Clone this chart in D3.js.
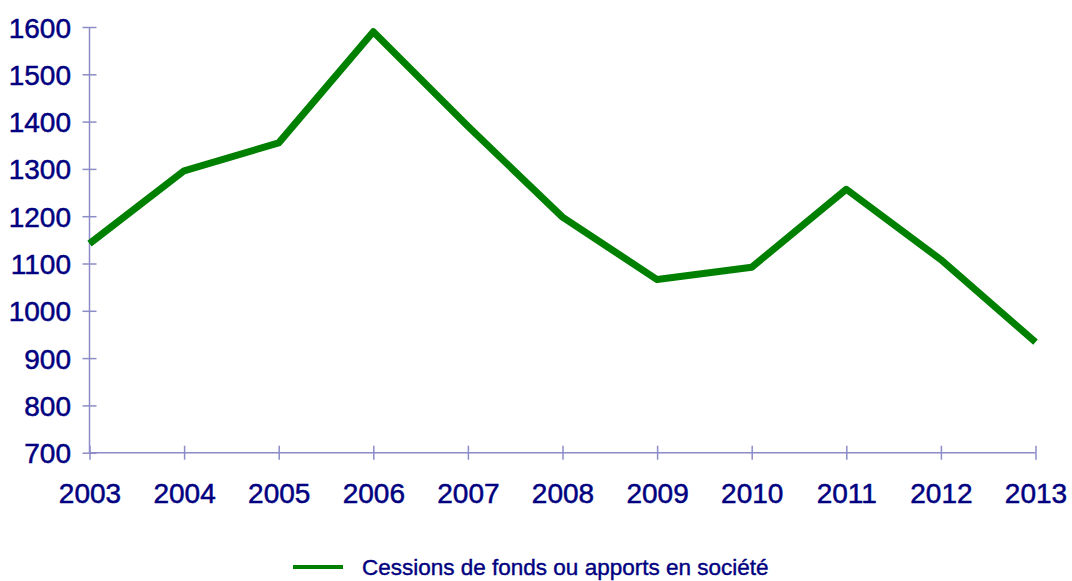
<!DOCTYPE html>
<html>
<head>
<meta charset="utf-8">
<script src="https://cdn.jsdelivr.net/npm/d3@7"></script>
<style>
  body { margin: 0; background: #fff; }
  text { font-family: "Liberation Sans", Arial, sans-serif; }
</style>
</head>
<body>
<script>
// chart data
var years = ["2003","2004","2005","2006","2007","2008","2009","2010","2011","2012","2013"];
var values = [1142, 1296, 1355, 1590, 1390, 1198, 1066, 1092, 1257, 1108, 934];
var yTicks = [700, 800, 900, 1000, 1100, 1200, 1300, 1400, 1500, 1600];
var seriesName = "Cessions de fonds ou apports en société";

var width = 1072, height = 581;
var axisColor = "#8c8cc8", textColor = "#000080", lineColor = "#008000";

var svg = d3.select("body").append("svg")
    .attr("width", width)
    .attr("height", height);

var x = d3.scalePoint()
    .domain(years)
    .range([89.5, 1035.5]);

var y = d3.scaleLinear()
    .domain([700, 1600])
    .range([452.7, 27]);

// y axis
var yAxis = svg.append("g")
    .attr("transform", "translate(89.5,0)")
    .call(d3.axisLeft(y).tickValues(yTicks).tickFormat(d3.format("d")).tickSize(7).tickPadding(11.5));
yAxis.select(".domain").attr("stroke", axisColor).attr("stroke-width", 1.5)
    .attr("d", "M0," + y(700) + "V" + y(1600));
yAxis.selectAll(".tick line").attr("stroke", axisColor).attr("stroke-width", 1.5)
    .attr("x1", 7).attr("x2", -7);
yAxis.selectAll(".tick text")
    .attr("fill", textColor)
    .attr("stroke", textColor).attr("stroke-width", 0.5)
    .style("font-size", "28px")
    .attr("dy", "0.36em");

// x axis
var xAxis = svg.append("g")
    .attr("transform", "translate(0," + y(700) + ")")
    .call(d3.axisBottom(x).tickSize(7).tickPadding(23));
xAxis.select(".domain").attr("stroke", axisColor).attr("stroke-width", 1.5)
    .attr("d", "M" + x("2003") + ",0H" + x("2013"));
xAxis.selectAll(".tick line").attr("stroke", axisColor).attr("stroke-width", 1.5)
    .attr("y1", -7).attr("y2", 7);
xAxis.selectAll(".tick text")
    .attr("fill", textColor)
    .attr("stroke", textColor).attr("stroke-width", 0.5)
    .style("font-size", "28px");

// series line
var line = d3.line()
    .x(function(d, i) { return x(years[i]); })
    .y(function(d) { return y(d); });

svg.append("path")
    .attr("d", line(values))
    .attr("fill", "none")
    .attr("stroke", lineColor)
    .attr("stroke-width", 7)
    .attr("stroke-linejoin", "round");

// legend
var legend = svg.append("g").attr("transform", "translate(293,567)");
legend.append("line")
    .attr("x1", 0).attr("x2", 50)
    .attr("stroke", lineColor).attr("stroke-width", 4);
legend.append("text")
    .attr("x", 69).attr("dy", "0.36em")
    .attr("fill", textColor)
    .attr("stroke", textColor).attr("stroke-width", 0.4)
    .style("font-size", "22.5px")
    .text(seriesName);
</script>
</body>
</html>
